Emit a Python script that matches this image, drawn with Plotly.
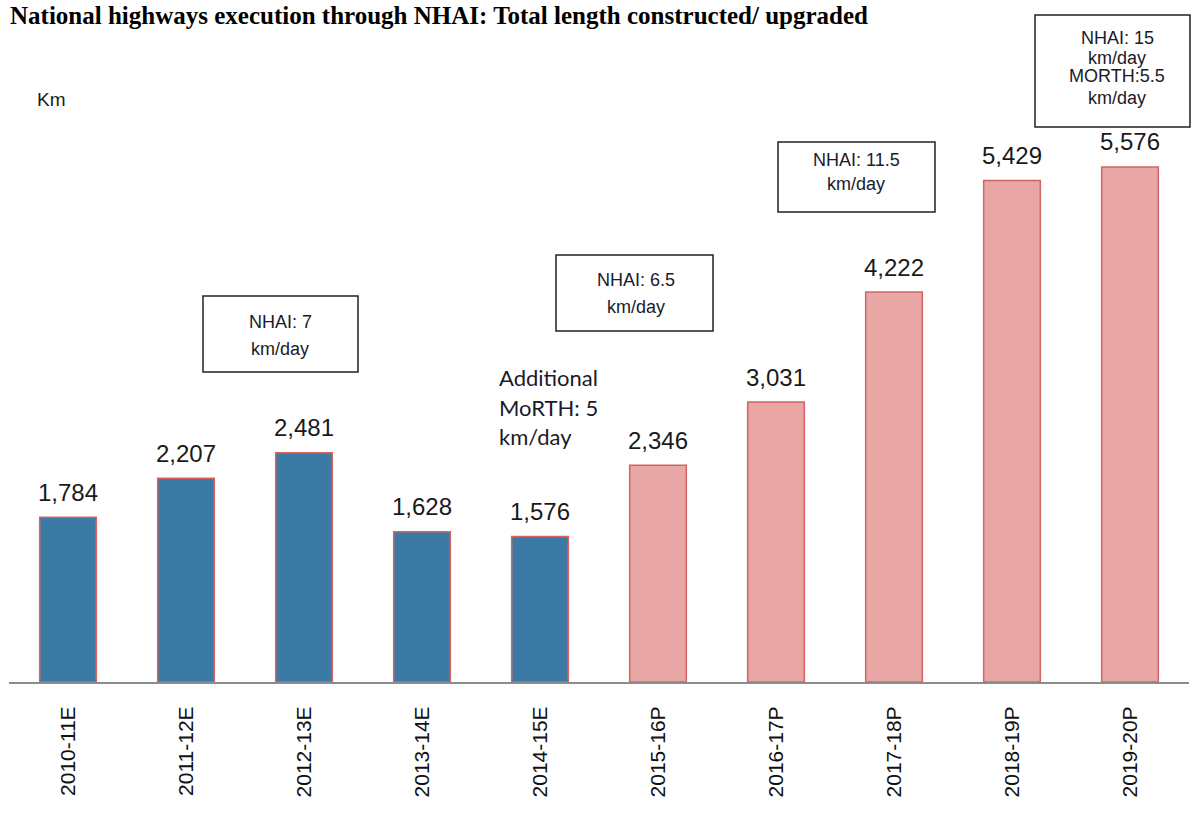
import plotly.graph_objects as go

categories = ["2010-11E", "2011-12E", "2012-13E", "2013-14E", "2014-15E",
              "2015-16P", "2016-17P", "2017-18P", "2018-19P", "2019-20P"]
values = [1784, 2207, 2481, 1628, 1576, 2346, 3031, 4222, 5429, 5576]
is_projection = [False] * 5 + [True] * 5

title_text = "National highways execution through NHAI: Total length constructed/ upgraded"
unit_label = "Km"
box_notes = [
    ["NHAI: 7", "km/day"],
    ["NHAI: 6.5", "km/day"],
    ["NHAI: 11.5", "km/day"],
    ["NHAI: 15", "km/day", "MORTH:5.5", "km/day"],
]
free_note = ["Additional", "MoRTH: 5", "km/day"]

W, H = 1191, 816
L, R, T, B = 9, 2, 0, 134
PW, PH = W - L - R, H - T - B
YMAX = 7384


def px_x(x):
    return (x - L) / PW


def px_y(y):
    return (T + PH - y) / PH


blue, blue_line = "#3C7AA6", "#D9625E"
pink, pink_line = "#E8A6A5", "#D26464"

fig = go.Figure()
fig.add_trace(go.Bar(
    x=categories, y=values,
    marker=dict(color=[pink if p else blue for p in is_projection],
                line=dict(color=[pink_line if p else blue_line for p in is_projection], width=1.5)),
    width=0.48,
    hoverinfo="x+y",
))

annotations = []
for c, v in zip(categories, values):
    annotations.append(dict(x=c, y=v, xref="x", yref="y", text=f"{v:,}", showarrow=False,
                            yanchor="middle", yshift=25,
                            font=dict(family="Liberation Sans, Arial", size=24, color="#1a1a1a")))

# title
annotations.append(dict(x=px_x(8), y=px_y(16), xref="paper", yref="paper", text=f"<b>{title_text}</b>",
                        showarrow=False, xanchor="left", yanchor="middle",
                        font=dict(family="Liberation Serif, Times New Roman", size=25, color="#000")))
annotations.append(dict(x=px_x(35), y=px_y(100), xref="paper", yref="paper", text=unit_label,
                        showarrow=False, xanchor="left", yanchor="middle",
                        font=dict(family="Liberation Sans, Arial", size=19, color="#1a1a1a")))

boxes = [
    (203, 358, 296, 372, 280, [322, 349]),
    (556, 713, 255, 331, 636, [280, 307]),
    (778, 935, 142, 212, 856, [160, 184]),
    (1035, 1190, 15, 127, 1117, [38, 58, 76, 98]),
]
shapes = []
for (x0, x1, y0, y1, cx, ys), lines in zip(boxes, box_notes):
    shapes.append(dict(type="rect", xref="paper", yref="paper", x0=px_x(x0), x1=px_x(x1),
                       y0=px_y(y1), y1=px_y(y0), line=dict(color="#222", width=1.5),
                       fillcolor="white", layer="above"))
    for ln, yy in zip(lines, ys):
        annotations.append(dict(x=px_x(cx), y=px_y(yy), xref="paper", yref="paper", text=ln,
                                showarrow=False, xanchor="center", yanchor="middle",
                                font=dict(family="Liberation Sans, Arial", size=18, color="#1a1a2a")))

for ln, yy in zip(free_note, [378, 407, 436]):
    annotations.append(dict(x=px_x(497), y=px_y(yy), xref="paper", yref="paper", text=ln,
                            showarrow=False, xanchor="left", yanchor="middle",
                            font=dict(family="Lato, Open Sans", size=22, color="#1a1a2a")))

fig.update_layout(
    width=W, height=H,
    margin=dict(l=L, r=R, t=T, b=B, pad=0),
    plot_bgcolor="white", paper_bgcolor="white",
    showlegend=False,
    annotations=annotations,
    shapes=shapes,
    xaxis=dict(showline=True, linecolor="#8c8c8c", linewidth=2, ticks="", tickangle=-90,
               ticklabelstandoff=14,
               tickfont=dict(family="Liberation Sans, Arial", size=21, color="#111")),
    yaxis=dict(range=[0, YMAX], visible=False, showgrid=False),
)

fig.write_html("out.html", config={"displayModeBar": False},
               post_script="document.body.style.margin='0';")
